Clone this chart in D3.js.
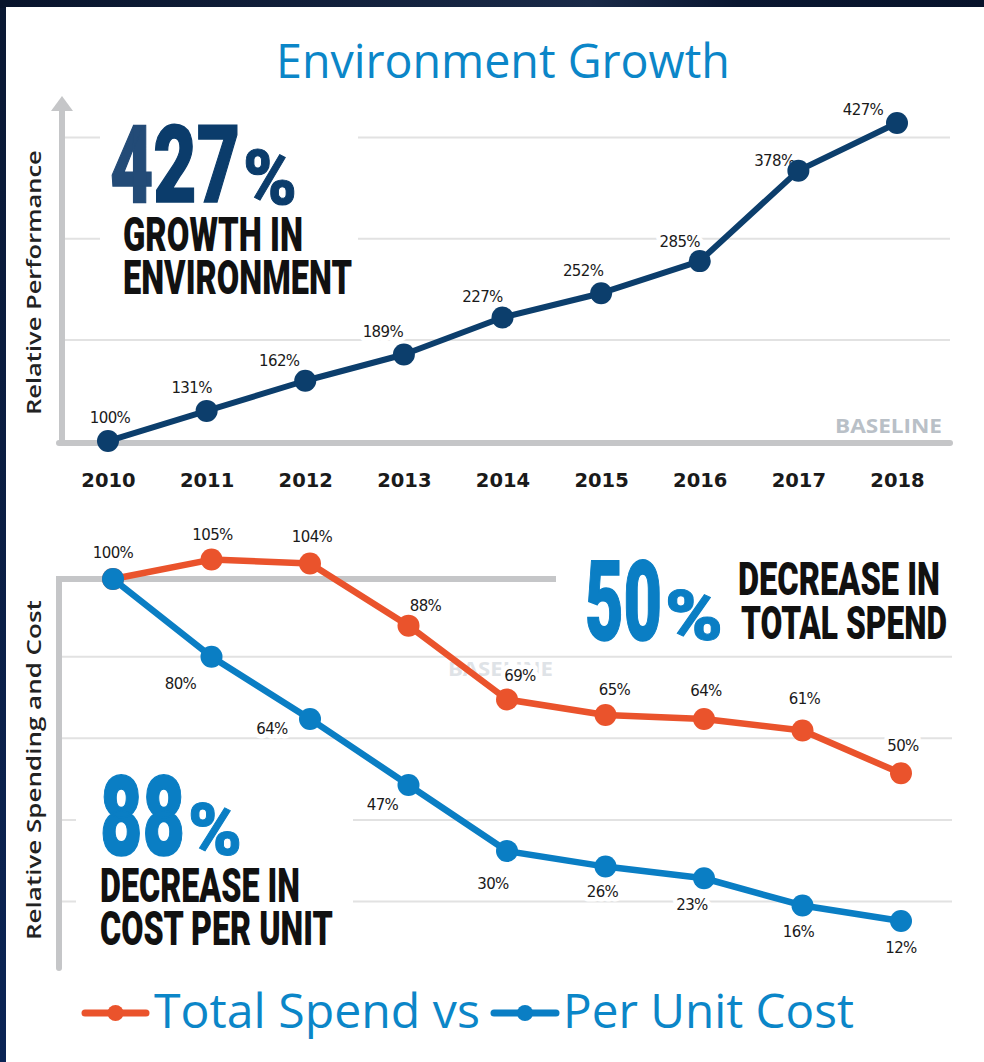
<!DOCTYPE html>
<html>
<head>
<meta charset="utf-8">
<script src="https://cdnjs.cloudflare.com/ajax/libs/d3/7.8.5/d3.min.js"></script>
<style>
html,body{margin:0;padding:0;background:#0a1730;}
svg{display:block;}
</style>
</head>
<body>
<script>
// ---------- DATA ----------
const years = ["2010","2011","2012","2013","2014","2015","2016","2017","2018"];
const performance = [100,131,162,189,227,252,285,378,427];
const totalSpend = [100,105,104,88,69,65,64,61,50];
const perUnitCost = [100,80,64,47,30,26,23,16,12];
const topGrid = [204,308,412];
const bottomGrid = [80,59,38,17];
const titleText = "Environment Growth";
const topYTitle = "Relative Performance";
const bottomYTitle = "Relative Spending and Cost";
const legendLabels = ["Total Spend vs", "Per Unit Cost"];

// ---------- LAYOUT (label offsets from point, in px) ----------
const perfLabelOff = [[2,-18],[-15,-18],[-26,-15],[-21,-17],[-20,-16],[-18,-17],[-20,-14],[-24,-5],[-34,-8]];
const spendLabelOff = [[0,-21],[1,-20],[2,-21],[17,-15],[13,-18],[9,-20],[2,-23],[2,-27],[2,-22]];
const unitLabelOff = [[0,0],[-31,32],[-38,15],[-26,25],[-14,38],[-3,30],[-12,32],[-4,32],[0,32]];

const W = 984, H = 1062;
const svg = d3.select("body").append("svg").attr("width", W).attr("height", H);

// frame
const defs = svg.append("defs");
const g1 = defs.append("linearGradient").attr("id","topband").attr("x1","0").attr("x2","1");
g1.append("stop").attr("offset","0").attr("stop-color","#08142c");
g1.append("stop").attr("offset","0.6").attr("stop-color","#1a2a48");
g1.append("stop").attr("offset","0.75").attr("stop-color","#0a1731");
g1.append("stop").attr("offset","1").attr("stop-color","#07132b");
const g2 = defs.append("linearGradient").attr("id","leftband").attr("x1","0").attr("x2","0").attr("y1","0").attr("y2","1");
g2.append("stop").attr("offset","0").attr("stop-color","#0a1833");
g2.append("stop").attr("offset","1").attr("stop-color","#0b2455");
svg.append("rect").attr("width",W).attr("height",H).attr("fill","url(#leftband)");
svg.append("rect").attr("width",W).attr("height",8).attr("fill","url(#topband)");
svg.append("rect").attr("x",6).attr("y",7).attr("width",W-6).attr("height",H-7).attr("fill","#ffffff");

const AXIS = "#c5c6c8", GRID = "#e2e2e2";
const NAVY = "#0c3e6c", ORANGE = "#ea532c", BLUE = "#0a7ec4", TBLUE = "#0b86c8";
const CONDENSED = "Roboto, 'Liberation Sans', sans-serif";

// text squeezed horizontally to a target width via transform (keeps real bbox)
function fitText(parent, str, x, y, width, o){
  const g = parent.append("g");
  const t = g.append("text").attr("x",0).attr("y",0)
    .attr("font-family",o.family).attr("font-weight",o.weight||400)
    .attr("font-size",o.size).attr("fill",o.fill);
  if (o.stroke) t.attr("stroke",o.stroke).attr("stroke-width",o.sw||1);
  if (o.parts) { o.parts.forEach(p=>{ const ts=t.append("tspan").attr("fill",p[1]).text(p[0]); if(o.stroke) ts.attr("stroke",p[1]); }); }
  else t.text(str);
  const nat = t.node().getComputedTextLength();
  const sx = width / nat;
  g.attr("transform",`translate(${x},${y}) scale(${sx},1)`);
  return g;
}

// title
fitText(svg, titleText, 276, 78, 454, {family:"'Open Sans', sans-serif", size:47, fill:TBLUE});

// ============ TOP CHART ============
const xTop = d3.scalePoint().domain(years).range([108, 897]);
const yTop = d3.scaleLinear().domain([98, 427]).range([443, 123]);

const topG = svg.append("g");
topG.selectAll("line.grid").data(topGrid).join("line")
  .attr("x1",62).attr("x2",950)
  .attr("y1",d=>yTop(d)).attr("y2",d=>yTop(d))
  .attr("stroke",GRID).attr("stroke-width",2);

// BASELINE label
fitText(topG, "BASELINE", 835, 433, 107, {family:"'Open Sans', sans-serif", weight:700, size:20, fill:"#b9c0c7"});

// axes
topG.append("line").attr("x1",62).attr("x2",62).attr("y1",108).attr("y2",yTop(98))
  .attr("stroke",AXIS).attr("stroke-width",6);
topG.append("path").attr("d","M62,96 L73,111 L51,111 Z").attr("fill",AXIS);
topG.append("line").attr("x1",59).attr("x2",950).attr("y1",yTop(98)).attr("y2",yTop(98))
  .attr("stroke",AXIS).attr("stroke-width",6).attr("stroke-linecap","round");

// x axis labels
const xAxisTop = topG.append("g").attr("transform","translate(0,487)")
  .call(d3.axisBottom(xTop).tickSize(0).tickPadding(0));
xAxisTop.select(".domain").remove();
xAxisTop.selectAll("text").attr("dy",0).attr("y",0)
  .attr("font-family","'DejaVu Sans', sans-serif").attr("font-weight",700)
  .attr("font-size",19.5).attr("fill","#1a1a1a");

// y title
const yt1 = topG.append("g").attr("transform","translate(41,415) rotate(-90)");
fitText(yt1, topYTitle, 0, 0, 265, {family:"'Open Sans', sans-serif", weight:600, size:20, fill:"#222"});

// big text block
topG.append("rect").attr("x",100).attr("y",112).attr("width",258).attr("height",190).attr("fill","#fff");
fitText(topG, "427", 110, 202, 130, {family:CONDENSED, weight:900, size:108, stroke:true, sw:1.5,
  parts:[["4","#234b77"],["27","#0b3c6b"]]});
fitText(topG, "%", 243, 204, 54, {family:CONDENSED, weight:900, size:76, fill:"#0b3c6b", stroke:"#0b3c6b", sw:1});
fitText(topG, "GROWTH IN", 123, 251, 180, {family:CONDENSED, weight:900, size:49, fill:"#111"});
fitText(topG, "ENVIRONMENT", 123, 294, 229, {family:CONDENSED, weight:900, size:49, fill:"#111"});

// data labels (with white halo)
function labels(g, vals, xs, ys, offs){
  g.selectAll(null).data(vals).join("text")
    .attr("x",(d,i)=>xs(years[i]) + offs[i][0])
    .attr("y",(d,i)=>ys(d) + offs[i][1])
    .attr("text-anchor","middle")
    .attr("font-family","'DejaVu Sans', sans-serif").attr("font-size",15)
    .attr("letter-spacing",-0.6)
    .attr("fill","#1a1a1a")
    .attr("stroke","#fff").attr("stroke-width",9).attr("stroke-linejoin","round")
    .attr("paint-order","stroke")
    .text(d=>d+"%");
}
labels(topG.append("g"), performance, xTop, yTop, perfLabelOff);

const lineTop = d3.line().x((d,i)=>xTop(years[i])).y(d=>yTop(d));
topG.append("path").datum(performance).attr("d",lineTop)
  .attr("fill","none").attr("stroke",NAVY).attr("stroke-width",6).attr("stroke-linejoin","round");
topG.append("g").selectAll("circle").data(performance).join("circle")
  .attr("cx",(d,i)=>xTop(years[i])).attr("cy",d=>yTop(d)).attr("r",11).attr("fill",NAVY);

// ============ BOTTOM CHART ============
const xBot = d3.scalePoint().domain(years).range([113, 901]);
const yBot = d3.scaleLinear().domain([100, 12]).range([579, 921]);
const bot = svg.append("g");

bot.selectAll("line.grid").data(bottomGrid).join("line")
  .attr("x1",60).attr("x2",952)
  .attr("y1",d=>yBot(d)).attr("y2",d=>yBot(d))
  .attr("stroke",GRID).attr("stroke-width",2);

// faint BASELINE
fitText(bot, "BASELINE", 448, 676, 105, {family:"'Open Sans', sans-serif", weight:700, size:20, fill:"#dfe3e7"});

// axes
bot.append("line").attr("x1",59).attr("x2",59).attr("y1",yBot(100)).attr("y2",968)
  .attr("stroke",AXIS).attr("stroke-width",6).attr("stroke-linecap","round");
bot.append("line").attr("x1",56).attr("x2",556).attr("y1",yBot(100)).attr("y2",yBot(100))
  .attr("stroke",AXIS).attr("stroke-width",6);

// y title
const yt2 = bot.append("g").attr("transform","translate(41,940) rotate(-90)");
fitText(yt2, bottomYTitle, 0, 0, 340, {family:"'Open Sans', sans-serif", weight:600, size:20, fill:"#222"});

// 88% block
bot.append("rect").attr("x",76).attr("y",768).attr("width",277).attr("height",184).attr("fill","#fff");
fitText(bot, "88", 100, 855, 85, {family:CONDENSED, weight:900, size:112, fill:BLUE, stroke:BLUE, sw:1.5});
fitText(bot, "%", 188, 855, 54, {family:CONDENSED, weight:900, size:73, fill:BLUE, stroke:BLUE, sw:1});
fitText(bot, "DECREASE IN", 100, 902, 200, {family:CONDENSED, weight:900, size:49, fill:"#111"});
fitText(bot, "COST PER UNIT", 100, 945, 233, {family:CONDENSED, weight:900, size:49, fill:"#111"});

// 50% block
fitText(bot, "50", 585, 640, 77, {family:CONDENSED, weight:900, size:112, fill:BLUE, stroke:BLUE, sw:1.5});
fitText(bot, "%", 665, 640, 58, {family:CONDENSED, weight:900, size:70, fill:BLUE, stroke:BLUE, sw:1});
fitText(bot, "DECREASE IN", 738, 595, 202, {family:CONDENSED, weight:900, size:47, fill:"#111"});
fitText(bot, "TOTAL SPEND", 741, 639, 206, {family:CONDENSED, weight:900, size:47, fill:"#111"});

// labels
labels(bot.append("g"), totalSpend, xBot, yBot, spendLabelOff);
const unitG = bot.append("g");
labels(unitG, perUnitCost, xBot, yBot, unitLabelOff);
unitG.selectAll("text").filter((d,i)=>i===0).remove();

const lineBot = d3.line().x((d,i)=>xBot(years[i])).y(d=>yBot(d));
bot.append("path").datum(totalSpend).attr("d",lineBot)
  .attr("fill","none").attr("stroke",ORANGE).attr("stroke-width",6.5).attr("stroke-linejoin","round");
bot.append("g").selectAll("circle").data(totalSpend).join("circle")
  .attr("cx",(d,i)=>xBot(years[i])).attr("cy",d=>yBot(d)).attr("r",11).attr("fill",ORANGE);
bot.append("path").datum(perUnitCost).attr("d",lineBot)
  .attr("fill","none").attr("stroke",BLUE).attr("stroke-width",6.5).attr("stroke-linejoin","round");
bot.append("g").selectAll("circle").data(perUnitCost).join("circle")
  .attr("cx",(d,i)=>xBot(years[i])).attr("cy",d=>yBot(d)).attr("r",11).attr("fill",BLUE);

// ============ LEGEND ============
const leg = svg.append("g");
const legItems = [
  {label: legendLabels[0], color: ORANGE, x0: 85, x1: 146, tx: 154, tl: 326},
  {label: legendLabels[1], color: BLUE, x0: 494, x1: 556, tx: 563, tl: 291}
];
legItems.forEach(it=>{
  leg.append("line").attr("x1",it.x0).attr("x2",it.x1).attr("y1",1013).attr("y2",1013)
    .attr("stroke",it.color).attr("stroke-width",7).attr("stroke-linecap","round");
  leg.append("circle").attr("cx",(it.x0+it.x1)/2).attr("cy",1013).attr("r",8).attr("fill",it.color);
  fitText(leg, it.label, it.tx, 1028, it.tl, {family:"'Open Sans', sans-serif", size:47, fill:TBLUE});
});
</script>
</body>
</html>
